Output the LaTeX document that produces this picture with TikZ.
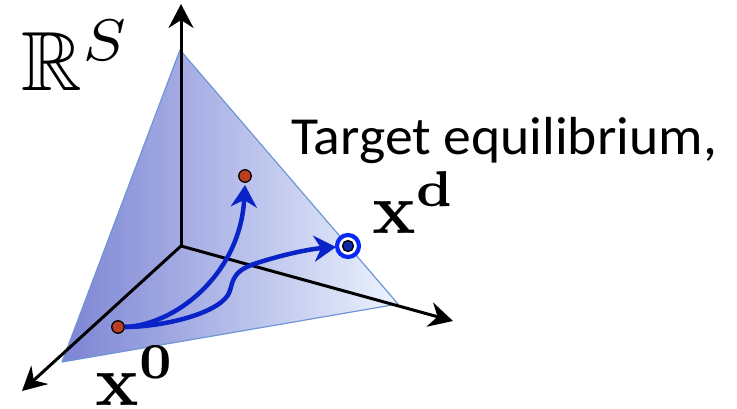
\documentclass[tikz,border=0pt]{standalone}
\usepackage[no-math]{fontspec}
\usepackage{amssymb}
\newfontfamily\carlito{Carlito}
\usetikzlibrary{arrows.meta}
\definecolor{fillL}{RGB}{124,132,212}
\definecolor{fillR}{RGB}{236,243,254}
\definecolor{edgeC}{RGB}{110,150,212}
\definecolor{pathC}{RGB}{8,36,200}
\definecolor{ringC}{RGB}{10,40,245}
\definecolor{dotR}{RGB}{186,62,36}
\definecolor{dotB}{RGB}{16,40,170}
\tikzset{
  axis/.style={line width=3pt,-{Stealth[length=24pt,width=25pt,inset=8pt]}},
  traj/.style={pathC,line width=4.5pt,-{Stealth[length=22pt,width=26pt,inset=7pt]}},
  reddot/.style={circle,fill=dotR,draw=black,line width=1.3pt,minimum size=12.5pt,inner sep=0pt},
  bluedot/.style={circle,fill=dotB,draw=black,line width=1.3pt,minimum size=11pt,inner sep=0pt},
  lbl/.style={inner sep=0pt,anchor=base west}
}
\begin{document}
\begin{tikzpicture}[x=1pt,y=-1pt]
\useasboundingbox (0,0) rectangle (737,409);
% simplex
\coordinate (A) at (180,50);
\coordinate (B) at (62,362);
\coordinate (C) at (398,304);
\shade[left color=fillL,right color=fillR] (A) -- (B) -- (C) -- cycle;
\draw[edgeC,line width=1.2pt,line join=round] (A) -- (B) -- (C) -- cycle;
% axes
\coordinate (O) at (181,246);
\coordinate (Zt) at (181,4);
\coordinate (Xt) at (22,391);
\coordinate (Yt) at (453,321);
\draw[axis] (O) -- (Zt);
\draw[axis] (O) -- (Xt);
\draw[axis] (O) -- (Yt);
% points
\node[reddot] (x0) at (118,327) {};
\node[reddot] (x1) at (245,176) {};
\coordinate (d) at (348,246);
\fill[white] (d) circle (9.5);
\draw[ringC,line width=4.2pt] (d) circle (11);
\node[bluedot] (xd) at (d) {};
% trajectories
\coordinate (e1) at (245,185);
\coordinate (w1) at (228,295);
\coordinate (w2) at (257,263);
\coordinate (e2) at (336,247);
\draw[traj] (x0.east) .. controls (175,325) and (240,275) .. (e1);
\draw[traj] (x0.east) .. controls (160,327) and (215,315) .. (w1)
  .. controls (234,285) and (228,272) .. (w2)
  .. controls (285,254) and (310,249) .. (e2);
% labels
\node[lbl,scale=8.4] (RS) at (20,91) {$\mathbb{R}^S$};
\node[lbl,xscale=1.07,yscale=1.03] (T) at (291,155) {\fontsize{52}{60}\selectfont\carlito Target equilibrium,};
\node[lbl,scale=7.2] (Lxd) at (371,233) {$\mathbf{x}^{\mathbf{d}}$};
\node[lbl,scale=7.2] (Lx0) at (94,405) {$\mathbf{x}^{\mathbf{0}}$};
\end{tikzpicture}
\end{document}
